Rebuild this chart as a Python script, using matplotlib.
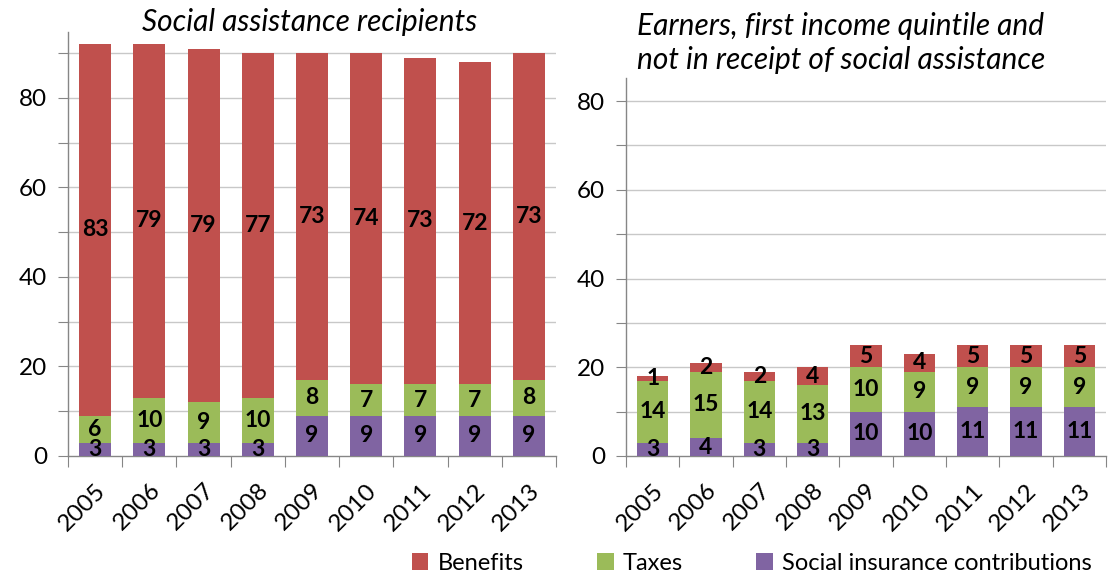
import matplotlib
matplotlib.use("Agg")
import matplotlib.pyplot as plt
from matplotlib.ticker import MultipleLocator, FuncFormatter

plt.rcParams['font.family'] = ['Lato', 'DejaVu Sans']

years = ['2005', '2006', '2007', '2008', '2009', '2010', '2011', '2012', '2013']
series_names = ['Benefits', 'Taxes', 'Social insurance contributions']

left_sic = [3, 3, 3, 3, 9, 9, 9, 9, 9]
left_taxes = [6, 10, 9, 10, 8, 7, 7, 7, 8]
left_benefits = [83, 79, 79, 77, 73, 74, 73, 72, 73]

right_sic = [3, 4, 3, 3, 10, 10, 11, 11, 11]
right_taxes = [14, 15, 14, 13, 10, 9, 9, 9, 9]
right_benefits = [1, 2, 2, 4, 5, 4, 5, 5, 5]

title_left = 'Social assistance recipients'
title_right = 'Earners, first income quintile and\nnot in receipt of social assistance'

c_ben = '#C0504D'
c_tax = '#9BBB59'
c_sic = '#8064A2'
grid_c = '#C8C8C8'
axis_c = '#868686'

W, H = 1110, 578
fig = plt.figure(figsize=(W / 100, H / 100), dpi=100)

def ax_rect(x0, x1, ytop, ybot):
    return [x0 / W, (H - ybot) / H, (x1 - x0) / W, (ybot - ytop) / H]

axL = fig.add_axes(ax_rect(68, 556, 32, 456))
axR = fig.add_axes(ax_rect(626, 1106, 78, 456))

def draw(ax, sic, tax, ben, ymax, gridmax):
    x = list(range(len(years)))
    w = 0.59
    bottoms2 = [a + b for a, b in zip(sic, tax)]
    handles = []
    handles.append(ax.bar(x, ben, w, bottom=bottoms2, color=c_ben, zorder=3, label=series_names[0]))
    handles.append(ax.bar(x, tax, w, bottom=sic, color=c_tax, zorder=3, label=series_names[1]))
    handles.append(ax.bar(x, sic, w, color=c_sic, zorder=3, label=series_names[2]))
    for i in x:
        segs = [(0, sic[i]), (sic[i], tax[i]), (bottoms2[i], ben[i])]
        for b, v in segs:
            ax.text(i, b + v / 2, str(v), ha='center', va='center', fontsize=16.5,
                    fontweight='bold', color='black', zorder=5)
    ax.set_xlim(-0.5, len(years) - 0.5)
    ax.set_ylim(0, ymax)
    for g in range(10, gridmax + 1, 10):
        ax.axhline(g, color=grid_c, lw=1.0, zorder=1)
    ax.yaxis.set_major_locator(MultipleLocator(10))
    ax.yaxis.set_major_formatter(FuncFormatter(lambda v, p: f'{int(v)}' if int(round(v)) % 20 == 0 else ''))
    ax.set_xticks([i + 0.5 for i in range(-1, len(years))], minor=False)
    ax.set_xticklabels([''] * (len(years) + 1))
    ax.set_xticks(x, minor=True)
    ax.set_xticklabels(years, minor=True, rotation=45, ha='right', rotation_mode='anchor', fontsize=17.5)
    ax.tick_params(axis='x', which='minor', length=0, pad=17)
    ax.tick_params(axis='x', which='major', length=8, color=axis_c, direction='out')
    ax.tick_params(axis='y', length=7, color=axis_c, labelsize=17.5, pad=8)
    for s in ['top', 'right']:
        ax.spines[s].set_visible(False)
    for s in ['left', 'bottom']:
        ax.spines[s].set_color(axis_c)
        ax.spines[s].set_linewidth(1.0)
    return handles

handles = draw(axL, left_sic, left_taxes, left_benefits, 94.7, 90)
draw(axR, right_sic, right_taxes, right_benefits, 85.2, 80)

fig.text(310 / W, 1 - 22 / H, title_left, ha='center', va='center', fontsize=21.5, style='italic')
fig.text(637 / W, 1 - 43 / H, title_right, ha='left', va='center', fontsize=21.5, style='italic',
         linespacing=1.25)

fig.legend(handles, series_names, loc='center', bbox_to_anchor=(752 / W, 15 / H), ncol=3,
           frameon=False, fontsize=17, handlelength=0.7, handleheight=0.7, handletextpad=0.4,
           columnspacing=3.1, borderpad=0)

fig.savefig('out.png', dpi=100)
